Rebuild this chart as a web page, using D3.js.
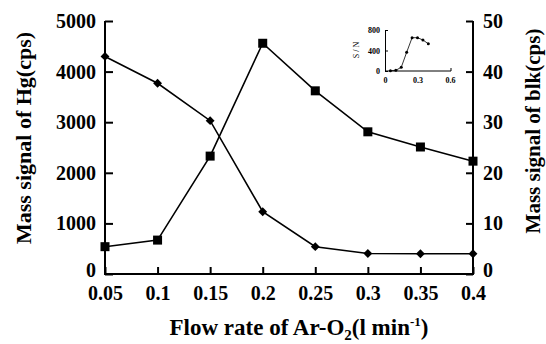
<!DOCTYPE html>
<html>
<head>
<meta charset="utf-8">
<script src="https://cdn.jsdelivr.net/npm/d3@7"></script>
<style>
  body { margin: 0; background: #fff; }
</style>
</head>
<body>
<script>
// flow rates (l/min)
var flow = [0.05, 0.1, 0.15, 0.2, 0.25, 0.3, 0.35, 0.4]
// Hg signal, left axis (squares)
var hgSignal = [540, 670, 2330, 4560, 3620, 2810, 2510, 2230]
// blank signal, right axis (diamonds)
var blkSignal = [43, 37.7, 30.3, 12.3, 5.4, 4.05, 4.0, 4.0]
// inset: S/N ratio
var snRatio = [6, 14, 72, 365, 650, 650, 605, 532]

var xTicks = [0.05, 0.1, 0.15, 0.2, 0.25, 0.3, 0.35, 0.4]
var leftTicks = [0, 1000, 2000, 3000, 4000, 5000]
var rightTicks = [0, 10, 20, 30, 40, 50]
var insetXTicks = [0, 0.3, 0.6]
var insetYTicks = [0, 400, 800]

var width = 546, height = 344
var serif = "'Liberation Serif', 'Times New Roman', 'DejaVu Serif', serif"

var svg = d3.select("body").append("svg")
    .attr("width", width)
    .attr("height", height)
    .attr("font-family", serif)
    .attr("font-weight", "bold")

var x = d3.scalePoint().domain(xTicks).range([105, 473])
var yL = d3.scaleLinear().domain([0, 5000]).range([274, 21])
var yR = d3.scaleLinear().domain([0, 50]).range([274, 21])

// axes
var xAxis = svg.append("g")
    .attr("transform", "translate(0,274)")
    .call(d3.axisBottom(x).tickSizeInner(-7).tickSizeOuter(0).tickPadding(12)
      .tickFormat(function(d) { return String(d) }))
var lAxis = svg.append("g")
    .attr("transform", "translate(105,0)")
    .call(d3.axisLeft(yL).tickValues(leftTicks).tickSizeInner(-8).tickSizeOuter(0).tickPadding(9)
      .tickFormat(d3.format("d")))
var rAxis = svg.append("g")
    .attr("transform", "translate(473,0)")
    .call(d3.axisRight(yR).tickValues(rightTicks).tickSizeInner(-7).tickSizeOuter(0).tickPadding(10)
      .tickFormat(d3.format("d")))

;[xAxis, lAxis, rAxis].forEach(function(g) {
  g.attr("font-family", serif).attr("font-size", 20)
  g.selectAll("path, line").attr("stroke", "#000").attr("stroke-width", 2)
  g.selectAll("text").attr("fill", "#000")
})
xAxis.select(".domain").attr("d", "M104,0H474")
xAxis.selectAll("text").attr("dy", "0.71em")
lAxis.select(".domain").attr("d", "M0,274V21")
rAxis.select(".domain").attr("d", "M0,274V21")
// 0 labels sit just above the x axis
lAxis.selectAll(".tick").filter(function(d) { return d === 0 }).select("text").attr("dy", "0.1em")
rAxis.selectAll(".tick").filter(function(d) { return d === 0 }).select("text").attr("dy", "0.1em")

// lines
var lineHg = d3.line().x(function(d, i) { return x(flow[i]) }).y(function(d) { return yL(d) })
var lineBlk = d3.line().x(function(d, i) { return x(flow[i]) }).y(function(d) { return yR(d) })

svg.append("path").attr("d", lineHg(hgSignal))
    .attr("fill", "none").attr("stroke", "#000").attr("stroke-width", 1.6)
svg.append("path").attr("d", lineBlk(blkSignal))
    .attr("fill", "none").attr("stroke", "#000").attr("stroke-width", 1.6)

svg.selectAll("rect.sq").data(hgSignal).enter()
  .append("rect").classed("sq", true)
  .attr("x", function(d, i) { return x(flow[i]) - 4.5 })
  .attr("y", function(d) { return yL(d) - 4.5 })
  .attr("width", 9).attr("height", 9).attr("fill", "#000")

svg.selectAll("path.dia").data(blkSignal).enter()
  .append("path").classed("dia", true)
  .attr("d", d3.symbol(d3.symbolDiamond2, 50))
  .attr("transform", function(d, i) { return "translate(" + x(flow[i]) + "," + yR(d) + ")" })
  .attr("fill", "#000")

// axis titles
svg.append("text")
  .attr("transform", "translate(31,138) rotate(-90)")
  .attr("text-anchor", "middle")
  .attr("font-size", 22)
  .text("Mass signal of Hg(cps)")

svg.append("text")
  .attr("transform", "translate(540,131) rotate(-90)")
  .attr("text-anchor", "middle")
  .attr("font-size", 21)
  .text("Mass signal of blk(cps)")

var xt = svg.append("text")
  .attr("x", 299).attr("y", 335)
  .attr("text-anchor", "middle")
  .attr("font-size", 23)
xt.append("tspan").text("Flow rate of Ar-O")
xt.append("tspan").attr("dy", 5).attr("font-size", 15).text("2")
xt.append("tspan").attr("dy", -5).text("(l min")
xt.append("tspan").attr("dy", -9).attr("font-size", 13).text("-1")
xt.append("tspan").attr("dy", 9).text(")")

// inset
var ix = d3.scaleLinear().domain([0, 0.6]).range([385, 450])
var iy = d3.scaleLinear().domain([0, 800]).range([71, 30])
var inset = svg.append("g")

var ixAxis = inset.append("g").attr("transform", "translate(0,71)")
    .call(d3.axisBottom(ix).tickValues(insetXTicks).tickSizeInner(0).tickSizeOuter(0).tickPadding(6)
      .tickFormat(function(d) { return d === 0 ? "0" : d3.format(".1f")(d) }))
var iyAxis = inset.append("g").attr("transform", "translate(385,0)")
    .call(d3.axisLeft(iy).tickValues(insetYTicks).tickSizeInner(-3).tickSizeOuter(0).tickPadding(5))
;[ixAxis, iyAxis].forEach(function(g) {
  g.attr("font-family", serif).attr("font-size", 8)
  g.selectAll("path, line").attr("stroke", "#000").attr("stroke-width", 1)
  g.selectAll("text").attr("fill", "#000")
})
ixAxis.select(".domain").attr("d", "M385,0H451V-3")

var iline = d3.line().x(function(d, i) { return ix(flow[i]) }).y(function(d) { return iy(d) })
inset.append("path").attr("d", iline(snRatio))
    .attr("fill", "none").attr("stroke", "#000").attr("stroke-width", 0.8)
inset.selectAll("circle").data(snRatio).enter()
  .append("circle")
  .attr("cx", function(d, i) { return ix(flow[i]) })
  .attr("cy", function(d) { return iy(d) })
  .attr("r", 1.5).attr("fill", "#000")

inset.append("text")
  .attr("transform", "translate(359,50) rotate(-90)")
  .attr("text-anchor", "middle")
  .attr("font-size", 8).attr("font-weight", "normal")
  .text("S / N")
</script>
</body>
</html>
